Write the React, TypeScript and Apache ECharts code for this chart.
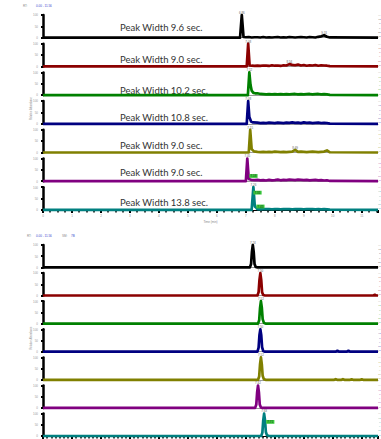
import React, { useEffect, useRef } from "react";
import * as echarts from "echarts";

const traceColors = ["#000000", "#8b0000", "#008000", "#000080", "#808000", "#800080", "#008080"];
const peakWidths = ["9.6", "9.0", "10.2", "10.8", "9.0", "9.0", "13.8"];
const rtMin = 0;
const rtMax = 11.56;
const xTickLabels = ["0", "1", "2", "3", "4", "5", "6", "7", "8", "9", "10", "11"];
const yTickLabels = ["0", "50", "100"];

// top panel
const topNoiseTimes = [7.4, 7.5, 7.6, 7.7, 7.8, 7.9, 8.0, 8.1, 8.2, 8.3, 8.4, 8.5, 8.6, 8.7, 8.8, 8.9, 9.0, 9.1, 9.2, 9.3, 9.4, 9.5, 9.6, 9.7, 9.8, 9.9];
const topNoise = [
  [2, 1, 3, 1, 2, 1, 2, 3, 1, 2, 1, 3, 2, 1, 2, 3, 2, 1, 3, 2, 1, 4, 6, 11, 4, 1],
  [3, 2, 4, 3, 2, 5, 3, 4, 2, 5, 4, 10, 7, 5, 8, 4, 6, 3, 5, 4, 6, 3, 5, 4, 3, 1],
  [8, 5, 4, 3, 4, 3, 4, 3, 4, 3, 4, 3, 4, 5, 3, 4, 3, 4, 5, 3, 4, 5, 3, 4, 3, 1],
  [5, 3, 4, 3, 5, 4, 3, 5, 4, 3, 5, 4, 6, 4, 5, 3, 6, 4, 5, 3, 4, 5, 3, 4, 3, 1],
  [3, 2, 3, 2, 3, 2, 4, 3, 2, 3, 2, 3, 4, 12, 3, 4, 3, 2, 3, 4, 3, 2, 3, 4, 9, 1],
  [6, 4, 5, 3, 6, 4, 5, 7, 4, 6, 5, 7, 6, 5, 7, 6, 5, 6, 4, 5, 6, 4, 5, 3, 4, 1],
  [3, 2, 3, 4, 3, 2, 3, 4, 2, 3, 4, 3, 2, 3, 4, 3, 2, 3, 4, 3, 2, 3, 2, 3, 2, 1],
];
const topPeaks = [
  [[6.8, 0], [6.86, 100], [6.92, 3], [7.0, 2], [7.1, 3], [7.2, 1], [7.3, 2]],
  [[7.03, 0], [7.08, 100], [7.13, 4], [7.2, 3], [7.3, 2]],
  [[7.07, 0], [7.12, 100], [7.16, 45], [7.2, 20], [7.26, 10], [7.32, 8]],
  [[7.03, 0], [7.08, 100], [7.12, 30], [7.18, 10], [7.25, 6]],
  [[7.1, 0], [7.15, 100], [7.2, 15], [7.28, 5]],
  [[7.0, 0], [7.05, 100], [7.1, 10], [7.18, 6], [7.3, 5]],
  [[7.2, 0], [7.26, 100], [7.31, 15], [7.37, 8]],
];
const topPeakLabels = [
  [[6.86, 100, "6.86"], [9.7, 11, "9.74"]],
  [[7.08, 100, "7.08"], [8.5, 10, "8.54"]],
  [[7.12, 100, "7.12"]],
  [[7.08, 100, "7.08"]],
  [[7.15, 100, "7.15"], [8.7, 12, "8.69"]],
  [[7.05, 100, "7.05"]],
  [[7.26, 100, "7.26"]],
];
const topBoxes = [[], [], [], [], [], [[7.12, 23, "7.18"]], [[7.26, 76, "7.31"], [7.36, 15, "7.45"]]];

// bottom panel
const bottomPeaks = [
  [[7.14, 0], [7.18, 15], [7.21, 70], [7.24, 100], [7.27, 70], [7.3, 15], [7.34, 2], [7.4, 0]],
  [[7.4, 0], [7.44, 15], [7.47, 70], [7.5, 100], [7.53, 70], [7.56, 15], [7.6, 2], [7.66, 0]],
  [[7.42, 0], [7.46, 15], [7.49, 70], [7.52, 100], [7.55, 72], [7.58, 20], [7.62, 4], [7.68, 0]],
  [[7.4, 0], [7.44, 18], [7.47, 75], [7.5, 100], [7.53, 75], [7.56, 20], [7.6, 3], [7.66, 0]],
  [[7.42, 0], [7.46, 15], [7.49, 70], [7.52, 100], [7.55, 70], [7.58, 18], [7.62, 3], [7.68, 0]],
  [[7.32, 0], [7.36, 15], [7.39, 70], [7.42, 100], [7.45, 70], [7.48, 15], [7.52, 2], [7.58, 0]],
  [[7.53, 0], [7.57, 15], [7.6, 70], [7.63, 100], [7.66, 72], [7.69, 18], [7.73, 3], [7.8, 0]],
];
const bottomSmall = [
  [],
  [[11.4, 0], [11.45, 3], [11.5, 0]],
  [],
  [[10.1, 0], [10.16, 4], [10.22, 0], [10.48, 0], [10.54, 4], [10.6, 0]],
  [[10.05, 0], [10.1, 3], [10.15, 0], [10.3, 0], [10.35, 3], [10.4, 0], [10.6, 0], [10.65, 2], [10.7, 0], [10.95, 0], [11.0, 2], [11.05, 0]],
  [],
  [],
];
const bottomPeakLabels = [
  [[7.24, 100, "7.24"]],
  [[7.5, 100, "7.50"]],
  [[7.52, 100, "7.52"]],
  [[7.5, 100, "7.50"]],
  [[7.52, 100, "7.52"]],
  [[7.42, 100, "7.42"]],
  [[7.63, 100, "7.63"]],
];
const bottomBoxes = [[], [], [], [], [], [], [[7.7, 63, "7.71"]]];
const sideLines = ["NL", "1E", "TI", "F:", "ES", "ms"];

const TOP0 = 15, TOP_STEP = 28.7, TOP_H = 22.7;
const BOT0 = 245, BOT_STEP = 28.1, BOT_H = 22.4;
const peakTextY = [27.7, 59, 90, 117.7, 145, 172, 202.7];

export default function App() {
  const ref = useRef<HTMLDivElement>(null);
  useEffect(() => {
    if (!ref.current) return;
    const chart = echarts.init(ref.current, undefined, { renderer: "svg" });
    const grids: any[] = [];
    const xAxes: any[] = [];
    const yAxes: any[] = [];
    const series: any[] = [];
    const graphics: any[] = [];

    const mkSeries = (idx: number, color: string, data: number[][], labels: any[], boxes: any[]) => {
      const mp: any[] = [];
      labels.forEach((l: any) =>
        mp.push({
          coord: [l[0], l[1]],
          name: l[2],
          label: { show: true, position: "top", distance: 1, fontSize: 3, color: "#666", formatter: "{b}" },
        })
      );
      boxes.forEach((b: any) =>
        mp.push({
          coord: [b[0], b[1]],
          name: b[2],
          label: {
            show: true, position: "right", distance: 0, fontSize: 3, color: "#1a3a1a",
            backgroundColor: "#3cc83c", padding: [0.4, 1.2], formatter: "{b}",
          },
        })
      );
      series.push({
        type: "line",
        xAxisIndex: idx,
        yAxisIndex: idx,
        data,
        showSymbol: false,
        clip: false,
        color,
        lineStyle: { width: 2.7, color, join: "round" },
        markPoint: { symbol: "circle", symbolSize: 0, silent: true, data: mp },
      });
    };

    for (let p = 0; p < 2; p++) {
      for (let i = 0; i < 7; i++) {
        const idx = p * 7 + i;
        const top = p === 0 ? TOP0 + TOP_STEP * i : BOT0 + BOT_STEP * i;
        const h = p === 0 ? TOP_H : BOT_H;
        const last = i === 6;
        grids.push({ left: 43, width: 335, top, height: h });
        xAxes.push({
          gridIndex: idx, type: "value", min: rtMin, max: rtMax, interval: 1,
          offset: last ? 0 : 2,
          axisLine: { show: true, lineStyle: { color: last ? "#000" : "#9a9a9a", width: 1 } },
          axisTick: { show: last, length: 3, lineStyle: { color: "#000", width: 2 } },
          minorTick: { show: last, splitNumber: p === 0 ? 4 : 7, length: 2.5, lineStyle: { color: "#000", width: 1.5 } },
          axisLabel: {
            show: last && p === 0, fontSize: 3, color: "#888", margin: 4,
            formatter: (v: number) => xTickLabels[Math.round(v)] ?? "",
          },
          splitLine: { show: false },
          name: last && p === 0 ? "Time (min)" : "",
          nameLocation: "middle", nameGap: 10,
          nameTextStyle: { fontSize: 3, color: "#888" },
        });
        yAxes.push({
          gridIndex: idx, type: "value", min: 0, max: 100, interval: 50,
          axisLine: { show: true, lineStyle: { color: "#000", width: 2.5 } },
          axisTick: { show: true, length: 2, lineStyle: { color: "#000", width: 2 } },
          axisLabel: {
            fontSize: 3, color: "#999", margin: 5,
            formatter: (v: number) => yTickLabels[Math.round(v / 50)] ?? "",
          },
          splitLine: { show: false },
        });
        const color = traceColors[i];
        let data: number[][];
        if (p === 0) {
          data = [[rtMin, 0], ...topPeaks[i], ...topNoiseTimes.map((t, k) => [t, topNoise[i][k]]), [rtMax, 0]];
          mkSeries(idx, color, data, topPeakLabels[i], topBoxes[i]);
        } else {
          data = [[rtMin, 0], ...bottomPeaks[i], ...bottomSmall[i], [rtMax, 0]];
          mkSeries(idx, color, data, bottomPeakLabels[i], bottomBoxes[i]);
        }
        sideLines.forEach((s, k) =>
          graphics.push({
            type: "text", x: 380.8, y: top + k * (h / 5.3),
            style: { text: s, fontSize: 2, fill: k === 0 ? "#999" : color, opacity: 0.6, align: "right", verticalAlign: "middle" },
          })
        );
      }
    }

    peakWidths.forEach((w, i) =>
      graphics.push({
        type: "text", x: 120, y: peakTextY[i],
        style: { text: `Peak Width ${w} sec.`, fontSize: 9.5, fontFamily: "Lato", fill: "#333", verticalAlign: "middle" },
      })
    );
    graphics.push(
      { type: "text", x: 23, y: 6, style: { text: "RT:", fontSize: 3, fill: "#888", verticalAlign: "middle" } },
      { type: "text", x: 36, y: 6, style: { text: "0.00 - 11.56", fontSize: 3, fill: "#3344cc", verticalAlign: "middle" } },
      { type: "text", x: 27, y: 235.7, style: { text: "RT:", fontSize: 3, fill: "#888", verticalAlign: "middle" } },
      { type: "text", x: 36, y: 235.7, style: { text: "0.00 - 11.56", fontSize: 3, fill: "#3344cc", verticalAlign: "middle" } },
      { type: "text", x: 62, y: 235.7, style: { text: "SM:", fontSize: 3, fill: "#888", verticalAlign: "middle" } },
      { type: "text", x: 71, y: 235.7, style: { text: "7B", fontSize: 3, fill: "#3344cc", verticalAlign: "middle" } },
      {
        type: "text", x: 31, y: 108.5, rotation: Math.PI / 2,
        style: { text: "Relative Abundance", fontSize: 2.6, fill: "#888", align: "center", verticalAlign: "middle" },
      },
      {
        type: "text", x: 31, y: 338, rotation: Math.PI / 2,
        style: { text: "Relative Abundance", fontSize: 2.6, fill: "#888", align: "center", verticalAlign: "middle" },
      }
    );

    chart.setOption({
      animation: false,
      backgroundColor: "#ffffff",
      grid: grids,
      xAxis: xAxes,
      yAxis: yAxes,
      series,
      graphic: graphics,
    });
    return () => chart.dispose();
  }, []);
  return <div ref={ref} style={{ position: "fixed", left: 0, top: 0, width: 381, height: 439 }} />;
}
